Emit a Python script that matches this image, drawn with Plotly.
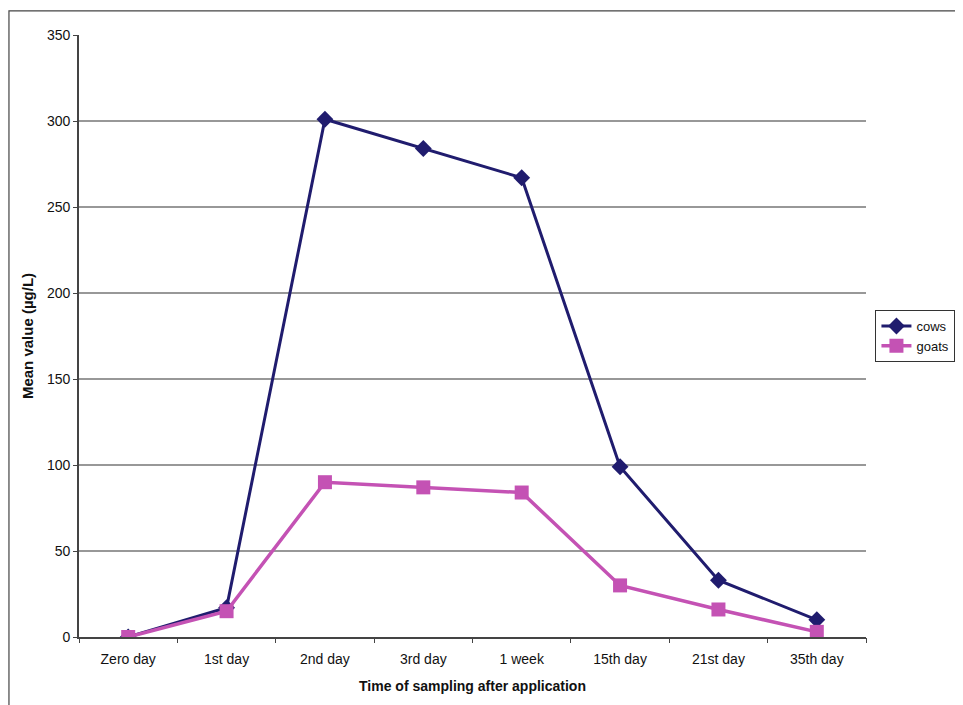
import plotly.graph_objects as go

categories = ["Zero day", "1st day", "2nd day", "3rd day", "1 week", "15th day", "21st day", "35th day"]
cows = [0, 17, 301, 284, 267, 99, 33, 10]
goats = [0, 15, 90, 87, 84, 30, 16, 3]
y_ticks = [0, 50, 100, 150, 200, 250, 300, 350]

fig = go.Figure()
fig.add_trace(go.Scatter(x=categories, y=cows, name="cows", mode="lines+markers",
                         line=dict(color="#201c6e", width=3),
                         marker=dict(symbol="diamond", size=13, color="#201c6e")))
fig.add_trace(go.Scatter(x=categories, y=goats, name="goats", mode="lines+markers",
                         line=dict(color="#c452b4", width=3.5),
                         marker=dict(symbol="square", size=14, color="#c452b4")))

shapes = []
for v in y_ticks[1:-1]:
    shapes.append(dict(type="line", xref="paper", yref="y", x0=0, x1=1, y0=v, y1=v,
                       line=dict(color="#333333", width=1.2), layer="below"))
shapes.append(dict(type="rect", xref="paper", yref="paper", x0=-0.089, x1=1.3, y0=-0.3, y1=1.04,
                   line=dict(color="#444444", width=1.2)))

fig.update_layout(
    width=955, height=697,
    margin=dict(l=71, r=97, t=27, b=68, autoexpand=False),
    paper_bgcolor="white", plot_bgcolor="white",
    font=dict(family="Liberation Sans, Arial, sans-serif", size=14, color="#111111"),
    shapes=shapes,
    showlegend=True,
    legend=dict(x=1.012, y=0.5, xanchor="left", yanchor="middle",
                bordercolor="#333333", borderwidth=1, bgcolor="white",
                font=dict(size=13), tracegroupgap=0, itemwidth=30),
    xaxis=dict(type="category", range=[-0.5, 7.5], showgrid=False,
               showline=True, linecolor="#444444", linewidth=1.8,
               ticks="", tickfont=dict(size=14), ticklabelstandoff=8, automargin=False,
               title=dict(text="<b>Time of sampling after application</b>", font=dict(size=14), standoff=15),
               zeroline=False),
    yaxis=dict(range=[0, 350], tickvals=y_ticks, showgrid=False,
               showline=True, linecolor="#444444", linewidth=1.8,
               ticks="outside", ticklen=4, tickcolor="#444444",
               tickfont=dict(size=14), automargin=False,
               title=dict(text="<b>Mean value (µg/L)</b>", font=dict(size=15), standoff=10),
               zeroline=False),
)
fig.update_layout(xaxis2=dict(overlaying="x", range=[-0.5, 7.5], tickvals=[i - 0.5 for i in range(len(categories) + 1)],
                              showticklabels=False, ticks="outside", ticklen=5, tickcolor="#444444",
                              side="bottom", showgrid=False, zeroline=False, showline=False, automargin=False))
fig.add_trace(go.Scatter(x=[None], y=[None], xaxis="x2", showlegend=False, hoverinfo="skip"))
fig.write_html("out.html")
